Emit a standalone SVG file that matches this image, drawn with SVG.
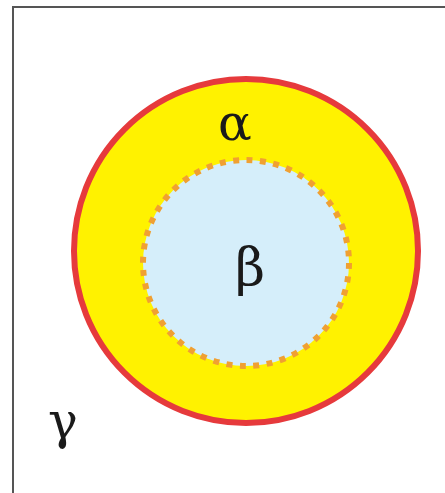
<svg xmlns="http://www.w3.org/2000/svg" width="445" height="493" viewBox="0 0 445 493">
<style>
.lbl{font-family:"DejaVu Serif","Liberation Serif",serif;fill:#1a1a1a;text-anchor:middle}
</style>
<rect width="445" height="493" fill="#ffffff"/>
<g id="frame">
<path d="M13,493 L13,7 L445,7" fill="none" stroke="#555" stroke-width="2"/>
</g>
<g id="alpha">
<circle cx="246" cy="251" r="172" fill="#fff200" stroke="#e63a3c" stroke-width="6"/>
<text class="lbl" x="235" y="140" font-size="50">α</text>
</g>
<g id="beta">
<circle cx="246" cy="263" r="103" fill="#d5eefa" stroke="#f0a032" stroke-width="6" stroke-dasharray="6 7.48"/>
<text class="lbl" x="250" y="285" font-size="52">β</text>
</g>
<g id="gamma">
<text class="lbl" x="63" y="438" font-size="50">γ</text>
</g>
<g id="connectors"/>
</svg>
